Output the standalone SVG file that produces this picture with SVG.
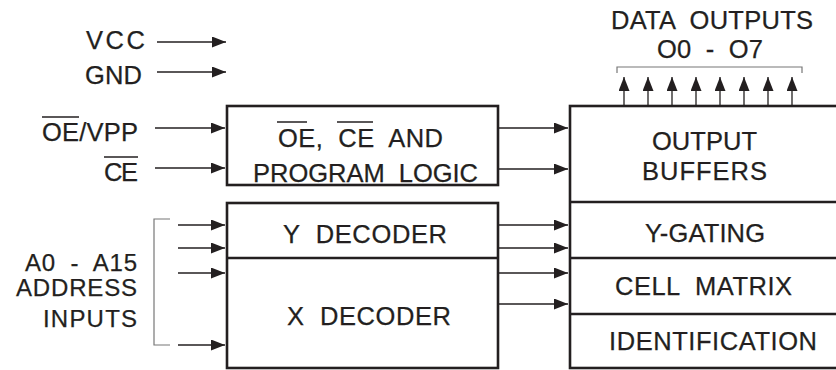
<svg xmlns="http://www.w3.org/2000/svg" width="836" height="370" viewBox="0 0 836 370">
<style>
  text { font-family: "Liberation Sans", Arial, sans-serif; font-size: 25.5px; fill: #231f20; stroke: #231f20; stroke-width: 0.25; white-space: pre; }
  .sm { font-size: 24px; }
  .box { fill: #ffffff; stroke: #231f20; stroke-width: 2.6; }
  .div { stroke: #231f20; stroke-width: 2.6; fill: none; }
  .wire { stroke: #231f20; stroke-width: 1.3; fill: none; marker-end: url(#ah); }
  .br { stroke: #777777; stroke-width: 1.2; fill: none; }
  .ov { stroke: #231f20; stroke-width: 1.5; }
  .e { text-anchor: end; }
  .m { text-anchor: middle; }
</style>
<defs>
  <marker id="ah" markerUnits="userSpaceOnUse" markerWidth="16" markerHeight="12" refX="14" refY="5.5" orient="auto">
    <path d="M0,0 L14,5.5 L0,11 Z" fill="#231f20"/>
  </marker>
</defs>
<rect width="836" height="370" fill="#ffffff"/>

<g id="node-vcc">
  <text x="145" y="48.5" class="e" textLength="59" lengthAdjust="spacing">VCC</text>
</g>
<g id="node-gnd">
  <text x="142" y="84" class="e" textLength="57" lengthAdjust="spacing">GND</text>
</g>
<g id="node-oevpp">
  <text x="138" y="141" class="e" textLength="96" lengthAdjust="spacing">OE/VPP</text>
  <line class="ov" x1="42" y1="117" x2="79" y2="117"/>
</g>
<g id="node-ce">
  <text x="138" y="181" class="e" textLength="34" lengthAdjust="spacing">CE</text>
  <line class="ov" x1="104" y1="157" x2="138" y2="157"/>
</g>
<g id="node-address">
  <text x="137" y="271" class="e sm" textLength="112" lengthAdjust="spacing">A0  -  A15</text>
  <text x="137" y="296" class="e sm" textLength="121" lengthAdjust="spacing">ADDRESS</text>
  <text x="137" y="327" class="e sm" textLength="94" lengthAdjust="spacing">INPUTS</text>
  <path class="br" d="M170,219 H154 V345 H170"/>
</g>
<g id="node-dataout">
  <text x="712" y="29" class="m" textLength="202" lengthAdjust="spacing">DATA  OUTPUTS</text>
  <text x="710" y="58" class="m" textLength="106" lengthAdjust="spacing">O0  -  O7</text>
  <path class="br" d="M617,73 V67 H802 V73"/>
</g>
<g id="node-logic">
  <rect class="box" x="227" y="106" width="271" height="79"/>
  <text x="360.5" y="147" class="m" textLength="165" lengthAdjust="spacing">OE,  CE  AND</text>
  <line class="ov" x1="277" y1="122" x2="307" y2="122"/>
  <line class="ov" x1="337" y1="122" x2="373" y2="122"/>
  <text x="365.5" y="182" class="m" textLength="225" lengthAdjust="spacing">PROGRAM  LOGIC</text>
</g>
<g id="node-decoders">
  <rect class="box" x="227" y="203" width="271" height="165"/>
  <line class="div" x1="227" y1="258" x2="498" y2="258"/>
  <text x="365" y="243" class="m" textLength="164" lengthAdjust="spacing">Y  DECODER</text>
  <text x="369" y="325" class="m" textLength="164" lengthAdjust="spacing">X  DECODER</text>
</g>
<g id="node-array">
  <rect class="box" x="570" y="106" width="280" height="262"/>
  <line class="div" x1="570" y1="202" x2="840" y2="202"/>
  <line class="div" x1="570" y1="258" x2="840" y2="258"/>
  <line class="div" x1="570" y1="314" x2="840" y2="314"/>
  <text x="704.5" y="150" class="m" textLength="105" lengthAdjust="spacing">OUTPUT</text>
  <text x="704.5" y="180" class="m" textLength="125" lengthAdjust="spacing">BUFFERS</text>
  <text x="705" y="242" class="m" textLength="120" lengthAdjust="spacing">Y-GATING</text>
  <text x="703.5" y="295" class="m" textLength="177" lengthAdjust="spacing">CELL  MATRIX</text>
  <text x="713" y="350" class="m" textLength="208" lengthAdjust="spacing">IDENTIFICATION</text>
</g>

<g id="connectors">
  <line class="wire" x1="157" y1="42" x2="226" y2="42"/>
  <line class="wire" x1="157" y1="72" x2="226" y2="72"/>
  <line class="wire" x1="155" y1="128" x2="225" y2="128"/>
  <line class="wire" x1="155" y1="168" x2="225" y2="168"/>
  <line class="wire" x1="498" y1="128" x2="568" y2="128"/>
  <line class="wire" x1="498" y1="169" x2="568" y2="169"/>
  <line class="wire" x1="178" y1="225" x2="225" y2="225"/>
  <line class="wire" x1="178" y1="248" x2="225" y2="248"/>
  <line class="wire" x1="178" y1="273" x2="225" y2="273"/>
  <line class="wire" x1="178" y1="345" x2="225" y2="345"/>
  <line class="wire" x1="498" y1="225" x2="568" y2="225"/>
  <line class="wire" x1="498" y1="248" x2="568" y2="248"/>
  <line class="wire" x1="498" y1="273" x2="568" y2="273"/>
  <line class="wire" x1="498" y1="304" x2="568" y2="304"/>
  <line class="wire" x1="624" y1="106" x2="624" y2="77"/>
  <line class="wire" x1="648" y1="106" x2="648" y2="77"/>
  <line class="wire" x1="672" y1="106" x2="672" y2="77"/>
  <line class="wire" x1="696" y1="106" x2="696" y2="77"/>
  <line class="wire" x1="720" y1="106" x2="720" y2="77"/>
  <line class="wire" x1="744" y1="106" x2="744" y2="77"/>
  <line class="wire" x1="768" y1="106" x2="768" y2="77"/>
  <line class="wire" x1="792" y1="106" x2="792" y2="77"/>
</g>
</svg>
